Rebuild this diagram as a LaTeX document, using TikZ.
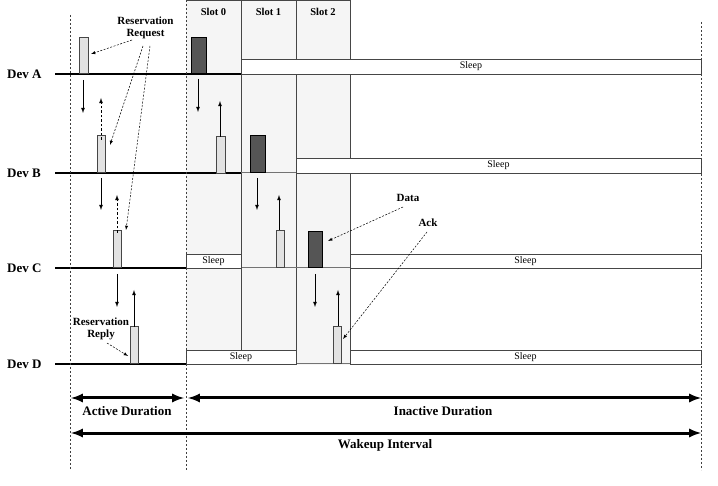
\documentclass[tikz,border=0pt]{standalone}
\usepackage{fontspec}
\setmainfont{Liberation Serif}
\usetikzlibrary{arrows}
\definecolor{slot_gray}{RGB}{245,245,245}
\definecolor{pkt_light}{RGB}{226,226,226}
\definecolor{pkt_dark}{RGB}{85,85,85}
\definecolor{box_line}{RGB}{70,70,70}
\tikzstyle{dev}=[anchor=west,inner sep=0pt,font=\fontsize{13}{15}\selectfont\bfseries]
\tikzstyle{lp}=[rectangle,draw=box_line,fill=pkt_light,line width=0.6pt,
  inner sep=0pt,anchor=south,minimum width=8pt,minimum height=37pt]
\tikzstyle{dp}=[rectangle,draw=black,fill=pkt_dark,line width=0.6pt,
  inner sep=0pt,anchor=south,minimum width=15pt,minimum height=36pt]
\tikzstyle{sb}=[rectangle,draw=box_line,fill=white,line width=0.7pt,
  inner sep=0pt,minimum height=15pt,font=\fontsize{10}{12}\selectfont]
\tikzstyle{lbl}=[inner sep=1pt,align=center,font=\fontsize{11}{12.5}\selectfont\bfseries]
\tikzstyle{big}=[inner sep=1pt,font=\fontsize{13}{15}\selectfont\bfseries]
\tikzstyle{vl}=[dash pattern=on 2pt off 2pt,line width=0.6pt,draw=black!75]
\tikzstyle{msg}=[-latex,line width=0.8pt]
\tikzstyle{hint}=[-latex,dash pattern=on 2pt off 1.5pt,line width=0.5pt]
\tikzstyle{dur}=[latex-latex,line width=3pt]
\begin{document}
\begin{tikzpicture}[x=1pt,y=-1pt]
        \useasboundingbox (0,0) rectangle (718,486);
        % slot columns
        \fill[slot_gray] (186,0) rectangle (350,365);
        \draw[box_line,line width=0.7pt] (186,0.5) -- (350,0.5);
        \draw[box_line,line width=0.7pt] (241,0) -- (241,350);
        \draw[box_line,line width=0.7pt] (296,0) -- (296,365);
        \draw[box_line,line width=0.7pt] (350,0) -- (350,365);
        \node[lbl,font=\fontsize{10.5}{12}\selectfont\bfseries] (s0) at (213.5,12) {Slot 0};
        \node[lbl,font=\fontsize{10.5}{12}\selectfont\bfseries] (s1) at (268.5,12) {Slot 1};
        \node[lbl,font=\fontsize{10.5}{12}\selectfont\bfseries] (s2) at (323,12) {Slot 2};
        % device lines
        \node[dev] (devA) at (7,74) {Dev A};
        \node[dev] (devB) at (7,173) {Dev B};
        \node[dev] (devC) at (7,268) {Dev C};
        \node[dev] (devD) at (7,364) {Dev D};
        \coordinate (a0) at (55,74);
        \coordinate (a1) at (241,74);
        \coordinate (b0) at (55,173);
        \coordinate (b1) at (241,173);
        \coordinate (b2) at (296,173);
        \coordinate (c0) at (55,268);
        \coordinate (c1) at (186,268);
        \coordinate (c2) at (350,268);
        \coordinate (d0) at (55,364);
        \coordinate (d1) at (186,364);
        \coordinate (d2) at (350,364);
        \draw[line width=1.3pt] (a0) to (a1);
        \draw[line width=1.3pt] (b0) to (b1);
        \draw[line width=1pt,black!55] (b1) to (b2);
        \draw[line width=1.3pt] (c0) to (c1);
        \draw[line width=1pt,black!55] (c1) to (c2);
        \draw[line width=1.3pt] (d0) to (d1);
        \draw[line width=1pt,black!55] (d1) to (d2);
        % sleep boxes
        \node[sb,minimum width=460pt] (zA) at (471,66.5) {Sleep};
        \node[sb,minimum width=405pt] (zB) at (498.5,165.5) {Sleep};
        \node[sb,minimum width=55pt,minimum height=14pt] (zC1) at (213.5,261) {Sleep};
        \node[sb,minimum width=351pt,minimum height=14pt] (zC2) at (525.5,261) {Sleep};
        \node[sb,minimum width=110pt,minimum height=14pt] (zD1) at (241,357) {Sleep};
        \node[sb,minimum width=351pt,minimum height=14pt] (zD2) at (525.5,357) {Sleep};
        % dashed time marks
        \coordinate (t0) at (70,15);
        \coordinate (t0e) at (70,470);
        \coordinate (t1) at (186,0);
        \coordinate (t1e) at (186,470);
        \coordinate (t2) at (701,22);
        \coordinate (t2e) at (701,470);
        \draw[vl] (t0) to (t0e);
        \draw[vl,line width=0.9pt] (t1) to (t1e);
        \draw[vl] (t2) to (t2e);
        % packets
        \node[lp,minimum width=9pt,minimum height=36pt] (reqA) at (83.5,74) {};
        \node[lp] (reqB) at (101,173) {};
        \node[lp] (reqC) at (117.5,268) {};
        \node[lp] (repD) at (134,364) {};
        \node[dp] (dataA) at (198.5,74) {};
        \node[lp,minimum width=9pt] (ackB) at (220.5,174) {};
        \node[dp,minimum height=37pt] (dataB) at (257.5,173) {};
        \node[lp] (ackC) at (280,268) {};
        \node[dp,minimum width=14pt] (dataC) at (315,268) {};
        \node[lp] (ackD) at (337,364) {};
        % messages
        \coordinate (m1) at (83,80);    \coordinate (m1e) at (83,113);
        \coordinate (m2) at (101,140);  \coordinate (m2e) at (101,98);
        \coordinate (m3) at (101,178);  \coordinate (m3e) at (101,210);
        \coordinate (m4) at (117,233);  \coordinate (m4e) at (117,195);
        \coordinate (m5) at (117,274);  \coordinate (m5e) at (117,307);
        \coordinate (m6) at (134,327);  \coordinate (m6e) at (134,290);
        \coordinate (m7) at (198,79);   \coordinate (m7e) at (198,112);
        \coordinate (m8) at (220,137);  \coordinate (m8e) at (220,101);
        \coordinate (m9) at (257,178);  \coordinate (m9e) at (257,210);
        \coordinate (m10) at (279,230); \coordinate (m10e) at (279,195);
        \coordinate (m11) at (315,274); \coordinate (m11e) at (315,307);
        \coordinate (m12) at (338,326); \coordinate (m12e) at (338,290);
        \draw[msg] (m1) to (m1e);
        \draw[msg,dash pattern=on 2.5pt off 2pt] (m2) to (m2e);
        \draw[msg] (m3) to (m3e);
        \draw[msg,dash pattern=on 2.5pt off 2pt] (m4) to (m4e);
        \draw[msg] (m5) to (m5e);
        \draw[msg] (m6) to (m6e);
        \draw[msg] (m7) to (m7e);
        \draw[msg] (m8) to (m8e);
        \draw[msg] (m9) to (m9e);
        \draw[msg] (m10) to (m10e);
        \draw[msg] (m11) to (m11e);
        \draw[msg] (m12) to (m12e);
        % labels
        \node[lbl] (req) at (145.5,28) {Reservation\\Request};
        \node[lbl] (rep) at (101,329) {Reservation\\Reply};
        \node[lbl] (data) at (408,198) {Data};
        \node[lbl] (ack) at (428,223) {Ack};
        \coordinate (r1) at (132,40);  \coordinate (r1e) at (91,54);
        \coordinate (r2) at (143,46);  \coordinate (r2e) at (110,145);
        \coordinate (r3) at (150,46);  \coordinate (r3e) at (126,230);
        \coordinate (p1) at (107,343); \coordinate (p1e) at (128,356);
        \coordinate (k1) at (403,207); \coordinate (k1e) at (328,241);
        \coordinate (k2) at (427,232); \coordinate (k2e) at (343,339);
        \draw[hint] (r1) to (r1e);
        \draw[hint] (r2) to (r2e);
        \draw[hint] (r3) to (r3e);
        \draw[hint] (p1) to (p1e);
        \draw[hint] (k1) to (k1e);
        \draw[hint] (k2) to (k2e);
        % durations
        \coordinate (w0) at (71,398);  \coordinate (w1) at (184,398);
        \coordinate (w2) at (188,398); \coordinate (w3) at (701,398);
        \coordinate (w4) at (71,433);  \coordinate (w5) at (701,433);
        \draw[dur] (w0) to (w1);
        \draw[dur] (w2) to (w3);
        \draw[dur] (w4) to (w5);
        \node[big] (act) at (127,411) {Active Duration};
        \node[big] (inact) at (443,411) {Inactive Duration};
        \node[big] (wake) at (385,445) {Wakeup Interval};
    \end{tikzpicture}
\end{document}
